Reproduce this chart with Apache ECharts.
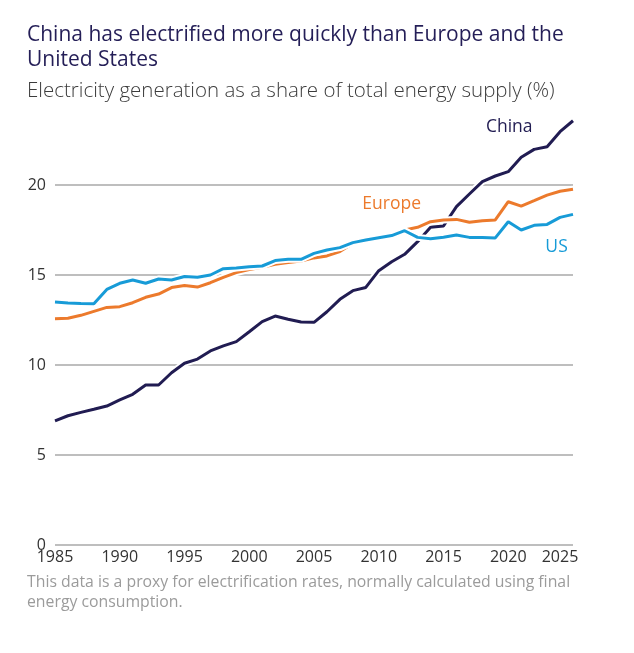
<!DOCTYPE html>
<html lang="en">
  <head>
    <meta charset="UTF-8" />
    <title>Electrification</title>
    <script src="https://cdn.jsdelivr.net/npm/echarts@6/dist/echarts.min.js"></script>
    <style>
      html, body { margin: 0; padding: 0; background: #fff; }
      #chart { width: 634px; height: 653px; }
    </style>
  </head>
  <body>
    <div id="chart"></div>
    <script>
      const years = [
        1985, 1986, 1987, 1988, 1989, 1990, 1991, 1992, 1993, 1994,
        1995, 1996, 1997, 1998, 1999, 2000, 2001, 2002, 2003, 2004,
        2005, 2006, 2007, 2008, 2009, 2010, 2011, 2012, 2013, 2014,
        2015, 2016, 2017, 2018, 2019, 2020, 2021, 2022, 2023, 2024, 2025
      ];
      const china = [
        6.9, 7.18, 7.37, 7.54, 7.72, 8.06, 8.37, 8.89, 8.89, 9.57,
        10.1, 10.33, 10.78, 11.06, 11.3, 11.85, 12.41, 12.72, 12.54, 12.39,
        12.37, 12.96, 13.65, 14.13, 14.31, 15.24, 15.74, 16.15, 16.85, 17.65,
        17.72, 18.8, 19.5, 20.19, 20.5, 20.74, 21.54, 21.98, 22.13, 22.96, 23.57
      ];
      const europe = [
        12.57, 12.6, 12.76, 12.98, 13.2, 13.24, 13.46, 13.76, 13.94, 14.3,
        14.42, 14.33, 14.57, 14.87, 15.13, 15.31, 15.43, 15.59, 15.69, 15.78,
        15.95, 16.06, 16.3, 16.75, 16.9, 17.02, 17.15, 17.5, 17.65, 17.96,
        18.06, 18.09, 17.93, 18.02, 18.06, 19.07, 18.83, 19.13, 19.44, 19.65, 19.76
      ];
      const us = [
        13.5, 13.45, 13.42, 13.4, 14.2, 14.54, 14.72, 14.54, 14.78, 14.72,
        14.92, 14.87, 15.0, 15.35, 15.39, 15.46, 15.5, 15.8, 15.87, 15.87,
        16.2, 16.39, 16.52, 16.8, 16.94, 17.07, 17.19, 17.46, 17.09, 17.02,
        17.1, 17.22, 17.09, 17.09, 17.06, 17.96, 17.5, 17.76, 17.81, 18.2, 18.37
      ];
      const yTicks = [0, 5, 10, 15, 20];

      const colors = { china: '#211c52', europe: '#ec7a2c', us: '#179bd7' };
      const font = '"Open Sans", "Noto Sans", sans-serif';

      // direct labels hang off one data point of each line
      const labelAt = { china: [2020, [1, -45]], europe: [2011, [0, -32]], us: [2024, [-3.5, 30]] };

      function buildData(name, values) {
        const [yr, offset] = labelAt[name];
        return values.map((v, i) => {
          if (years[i] !== yr) return [years[i], v];
          return {
            value: [years[i], v],
            label: {
              show: true,
              position: 'inside',
              offset: offset,
              formatter: name === 'us' ? 'US' : name[0].toUpperCase() + name.slice(1),
              color: colors[name],
              fontSize: 17.5,
              fontFamily: font
            }
          };
        });
      }

      // white underlay so crossings show a small gap, as in the original
      function halo(values) {
        return {
          type: 'line',
          silent: true,
          clip: false,
          symbol: 'none',
          data: values.map((v, i) => [years[i], v]),
          lineStyle: { color: '#fff', width: 7 }
        };
      }

      function line(name, values) {
        return {
          name: name,
          type: 'line',
          clip: false,
          symbol: 'circle',
          symbolSize: 0,
          showSymbol: true,
          data: buildData(name, values),
          lineStyle: { color: colors[name], width: 3 },
          itemStyle: { color: colors[name] }
        };
      }

      const myChart = echarts.init(document.getElementById('chart'));
      const option = {
        animation: false,
        title: [
          {
            text: 'China has electrified more quickly than Europe and the\nUnited States',
            left: 27,
            top: 23,
            padding: 0,
            textStyle: { color: '#241e57', fontSize: 21, fontWeight: 'normal', lineHeight: 25, fontFamily: font }
          },
          {
            text: 'Electricity generation as a share of total energy supply (%)',
            left: 27,
            top: 78,
            padding: 0,
            textStyle: { color: '#3c3c3c', fontSize: 20.5, fontWeight: 300, lineHeight: 26, fontFamily: font }
          },
          {
            text: 'This data is a proxy for electrification rates, normally calculated using final\nenergy consumption.',
            left: 27,
            top: 572,
            padding: 0,
            textStyle: { color: '#9b9b9b', fontSize: 15.8, fontWeight: 'normal', lineHeight: 20, fontFamily: font }
          }
        ],
        grid: { left: 55, right: 61, top: 185, bottom: 108, containLabel: false },
        xAxis: {
          type: 'value',
          min: 1985,
          max: 2025,
          interval: 5,
          axisLine: { show: false },
          axisTick: { show: false },
          splitLine: { show: false },
          axisLabel: {
            margin: 4,
            color: '#333',
            fontSize: 16,
            fontFamily: font,
            formatter: v => (v === 2025 ? '{r|' + v + '}' : String(v)),
            rich: { r: { color: '#333', fontSize: 16, fontFamily: font, padding: [0, 26, 0, 0] } }
          }
        },
        yAxis: {
          type: 'value',
          min: yTicks[0],
          max: yTicks[yTicks.length - 1],
          interval: 5,
          axisLine: { show: false },
          axisTick: { show: false },
          splitLine: { lineStyle: { color: '#a8a8a8', width: 1.5 } },
          axisLabel: { margin: 9, color: '#333', fontSize: 16, fontFamily: font }
        },
        series: [
          halo(china), line('china', china),
          halo(europe), line('europe', europe),
          halo(us), line('us', us)
        ]
      };
      myChart.setOption(option);
    </script>
  </body>
</html>
